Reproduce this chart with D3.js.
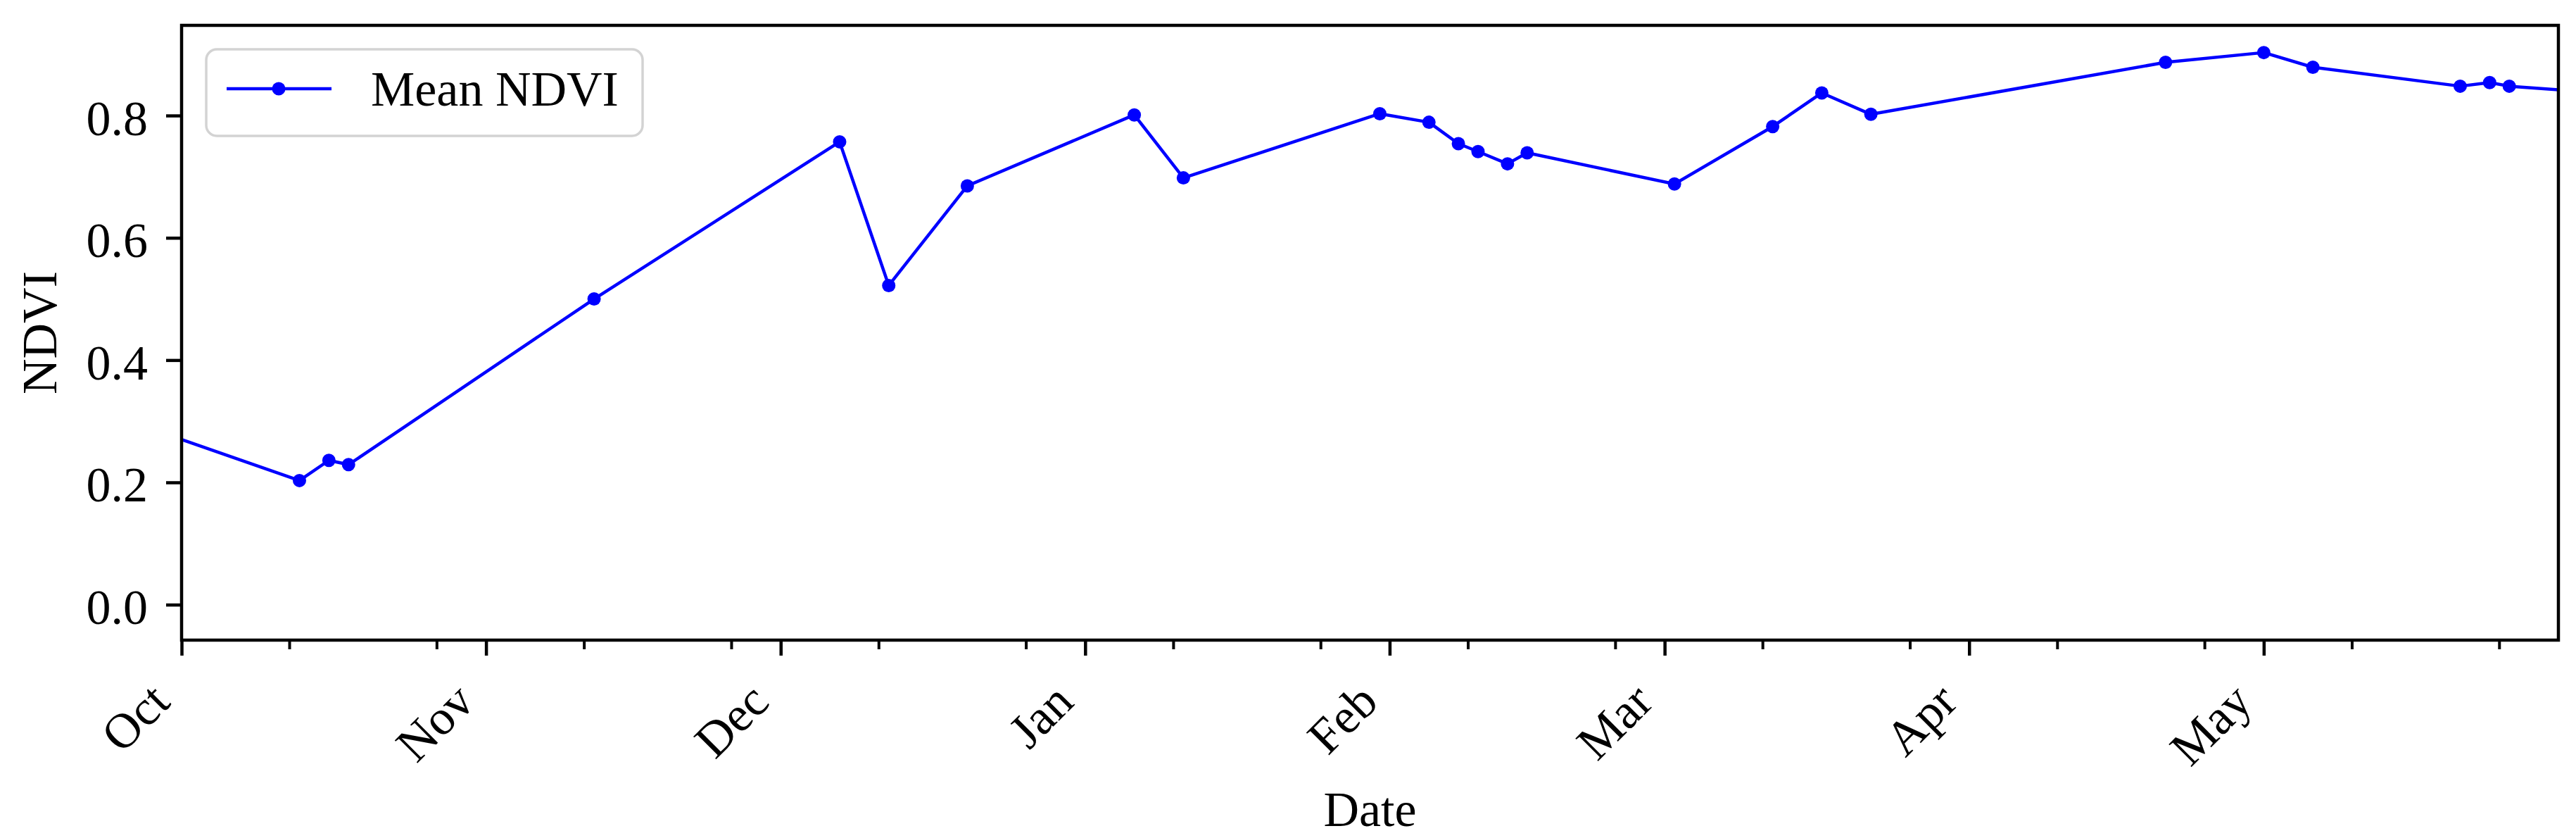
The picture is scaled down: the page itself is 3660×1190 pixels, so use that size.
<!doctype html>
<html>
<head>
    <title>Mean NDVI</title>
    <script src="https://d3js.org/d3.v7.min.js"></script>
    <style>
        body { margin: 0; background: #fff; }
        text { font-family: "Liberation Serif", "Times New Roman", serif; }
    </style>
</head>
<body>
    <svg width="3660" height="1190"></svg>
<script>
    // observation dates and mean NDVI (first and last points sit just outside the axis range)
    var dates = ["2020-09-28", "2020-10-13", "2020-10-16", "2020-10-18", "2020-11-12",
                 "2020-12-07", "2020-12-12", "2020-12-20", "2021-01-06", "2021-01-11",
                 "2021-01-31", "2021-02-05", "2021-02-08", "2021-02-10", "2021-02-13",
                 "2021-02-15", "2021-03-02", "2021-03-12", "2021-03-17", "2021-03-22",
                 "2021-04-21", "2021-05-01", "2021-05-06", "2021-05-21", "2021-05-24",
                 "2021-05-26", "2021-06-05"];
    var ndvi = [0.287, 0.203, 0.236, 0.229, 0.500,
                0.757, 0.522, 0.685, 0.801, 0.698,
                0.803, 0.789, 0.754, 0.741, 0.721,
                0.739, 0.688, 0.782, 0.837, 0.802,
                0.887, 0.903, 0.879, 0.848, 0.854,
                0.848, 0.836];
    var xLimits = ["2020-10-01", "2021-05-31"];
    var yLimits = [-0.058, 0.9475];
    var yTicks = [0.0, 0.2, 0.4, 0.6, 0.8];
    var minorStart = "2020-10-12";   // minor ticks every 15 days
    var seriesName = "Mean NDVI";

    var parse = d3.utcParse("%Y-%m-%d");
    var data = dates.map(function(d, i) { return {date: parse(d), value: ndvi[i]}; });

    var svg = d3.select("svg");
    // plot box (note: "top" is reserved on window, so use other names)
    var pLeft = 258, pRight = 3635, pTop = 36, pBottom = 909;

    var x = d3.scaleUtc().domain(xLimits.map(parse)).range([pLeft, pRight]);
    var y = d3.scaleLinear().domain(yLimits).range([pBottom, pTop]);

    svg.append("clipPath").attr("id", "plotclip")
       .append("rect")
       .attr("x", pLeft).attr("y", pTop)
       .attr("width", pRight - pLeft).attr("height", pBottom - pTop);

    // y axis
    var yAxis = svg.append("g")
        .attr("transform", "translate(" + pLeft + ",0)")
        .call(d3.axisLeft(y).tickValues(yTicks).tickFormat(d3.format(".1f")).tickSize(22).tickSizeOuter(0));
    yAxis.select(".domain").remove();
    yAxis.selectAll("line").attr("stroke", "#000").attr("stroke-width", 4.5);
    yAxis.selectAll("text")
        .attr("x", -48).attr("dy", 27)
        .attr("font-size", 70).attr("fill", "#000")
        .style("font-family", "Liberation Serif");

    // x axis, major ticks on month starts
    var xAxis = svg.append("g")
        .attr("transform", "translate(0," + pBottom + ")")
        .call(d3.axisBottom(x).ticks(d3.utcMonth.every(1)).tickFormat(d3.utcFormat("%b")).tickSize(22).tickSizeOuter(0));
    xAxis.select(".domain").remove();
    xAxis.selectAll("line").attr("stroke", "#000").attr("stroke-width", 4.5);
    xAxis.selectAll("text")
        .attr("y", 0).attr("dy", 0)
        .attr("text-anchor", "end")
        .attr("transform", "translate(-14,91) rotate(-45)")
        .attr("font-size", 70).attr("fill", "#000")
        .style("font-family", "Liberation Serif");

    // minor ticks
    var minorTicks = d3.utcDay.range(parse(minorStart), x.domain()[1], 15);
    svg.append("g").selectAll("line")
        .data(minorTicks)
        .enter().append("line")
        .attr("x1", function(d) { return x(d); })
        .attr("x2", function(d) { return x(d); })
        .attr("y1", pBottom)
        .attr("y2", pBottom + 13)
        .attr("stroke", "#000")
        .attr("stroke-width", 4);

    // series
    var plot = svg.append("g").attr("clip-path", "url(#plotclip)");
    plot.append("path")
        .datum(data)
        .attr("fill", "none")
        .attr("stroke", "#0000ff")
        .attr("stroke-width", 4.5)
        .attr("stroke-linejoin", "round")
        .attr("d", d3.line().x(function(d) { return x(d.date); }).y(function(d) { return y(d.value); }));
    plot.selectAll("circle")
        .data(data)
        .enter().append("circle")
        .attr("cx", function(d) { return x(d.date); })
        .attr("cy", function(d) { return y(d.value); })
        .attr("r", 9.5)
        .attr("fill", "#0000ff");

    // frame
    svg.append("rect")
        .attr("x", pLeft).attr("y", pTop)
        .attr("width", pRight - pLeft).attr("height", pBottom - pTop)
        .attr("fill", "none")
        .attr("stroke", "#000")
        .attr("stroke-width", 4.5);

    // axis titles
    svg.append("text")
        .attr("x", (pLeft + pRight) / 2).attr("y", 1173)
        .attr("text-anchor", "middle")
        .attr("font-size", 70)
        .text("Date");
    svg.append("text")
        .attr("transform", "translate(80," + (pTop + pBottom) / 2 + ") rotate(-90)")
        .attr("text-anchor", "middle")
        .attr("font-size", 70)
        .text("NDVI");

    // legend
    var legend = svg.append("g");
    legend.append("rect")
        .attr("x", 293).attr("y", 70)
        .attr("width", 620).attr("height", 123)
        .attr("rx", 15)
        .attr("fill", "#fff").attr("fill-opacity", 0.8)
        .attr("stroke", "#d3d3d3").attr("stroke-width", 3.5);
    legend.append("line")
        .attr("x1", 322).attr("x2", 471)
        .attr("y1", 126).attr("y2", 126)
        .attr("stroke", "#0000ff").attr("stroke-width", 4.5);
    legend.append("circle")
        .attr("cx", 396).attr("cy", 126).attr("r", 9.5)
        .attr("fill", "#0000ff");
    legend.append("text")
        .attr("x", 527).attr("y", 150)
        .attr("font-size", 70)
        .text(seriesName);
</script>
</body>
</html>
